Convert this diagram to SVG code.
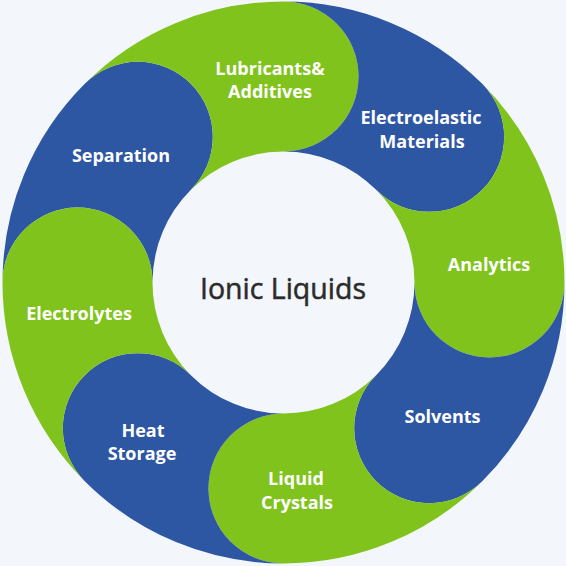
<svg xmlns="http://www.w3.org/2000/svg" width="566" height="566" viewBox="0 0 566 566">
<style>
.bg{fill:#f3f6fb}
.green{fill:#80c31c}
.blue{fill:#2d56a3}
.lbl{font-family:"Open Sans","Noto Sans","DejaVu Sans",sans-serif;font-weight:700;font-size:18px;fill:#ffffff;text-anchor:middle}
.title{font-family:"Open Sans","Noto Sans","DejaVu Sans",sans-serif;font-weight:400;font-size:28.5px;fill:#2b2b2b;stroke:#2b2b2b;stroke-width:0.5px;text-anchor:middle}
</style>
<rect class="bg" x="0" y="0" width="566" height="566"/>
<g id="connectors"/>
<g id="separation">
<path class="blue" d="M2.5 282.5A281 281 0 0 1 84.8 83.8A75 75 0 0 1 190.87 189.87A131 131 0 0 0 152.5 282.5A75 75 0 0 0 2.5 282.5Z"/>
<text class="lbl" x="121" y="162">Separation</text>
</g>
<g id="lubricants">
<path class="green" d="M84.8 83.8A281 281 0 0 1 283.5 1.5A75 75 0 0 1 283.5 151.5A131 131 0 0 0 190.87 189.87A75 75 0 0 0 84.8 83.8Z"/>
<text class="lbl" x="270" y="75">Lubricants&amp;</text>
<text class="lbl" x="270" y="98">Additives</text>
</g>
<g id="electroelastic">
<path class="blue" d="M283.5 1.5A281 281 0 0 1 482.2 83.8A75 75 0 0 1 376.13 189.87A131 131 0 0 0 283.5 151.5A75 75 0 0 0 283.5 1.5Z"/>
<text class="lbl" x="421" y="124">Electroelastic</text>
<text class="lbl" x="422" y="148">Materials</text>
</g>
<g id="analytics">
<path class="green" d="M482.2 83.8A281 281 0 0 1 564.5 282.5A75 75 0 0 1 414.5 282.5A131 131 0 0 0 376.13 189.87A75 75 0 0 0 482.2 83.8Z"/>
<text class="lbl" x="489" y="271">Analytics</text>
</g>
<g id="solvents">
<path class="blue" d="M564.5 282.5A281 281 0 0 1 482.2 481.2A75 75 0 0 1 376.13 375.13A131 131 0 0 0 414.5 282.5A75 75 0 0 0 564.5 282.5Z"/>
<text class="lbl" x="442.5" y="423">Solvents</text>
</g>
<g id="liquid-crystals">
<path class="green" d="M482.2 481.2A281 281 0 0 1 283.5 563.5A75 75 0 0 1 283.5 413.5A131 131 0 0 0 376.13 375.13A75 75 0 0 0 482.2 481.2Z"/>
<text class="lbl" x="296" y="485">Liquid</text>
<text class="lbl" x="297" y="509">Crystals</text>
</g>
<g id="heat-storage">
<path class="blue" d="M283.5 563.5A281 281 0 0 1 84.8 481.2A75 75 0 0 1 190.87 375.13A131 131 0 0 0 283.5 413.5A75 75 0 0 0 283.5 563.5Z"/>
<text class="lbl" x="143" y="437">Heat</text>
<text class="lbl" x="142" y="460">Storage</text>
</g>
<g id="electrolytes">
<path class="green" d="M84.8 481.2A281 281 0 0 1 2.5 282.5A75 75 0 0 1 152.5 282.5A131 131 0 0 0 190.87 375.13A75 75 0 0 0 84.8 481.2Z"/>
<text class="lbl" x="79" y="320">Electrolytes</text>
</g>
<g id="ionic-liquids">
<text class="title" x="283" y="299">Ionic Liquids</text>
</g>
</svg>
